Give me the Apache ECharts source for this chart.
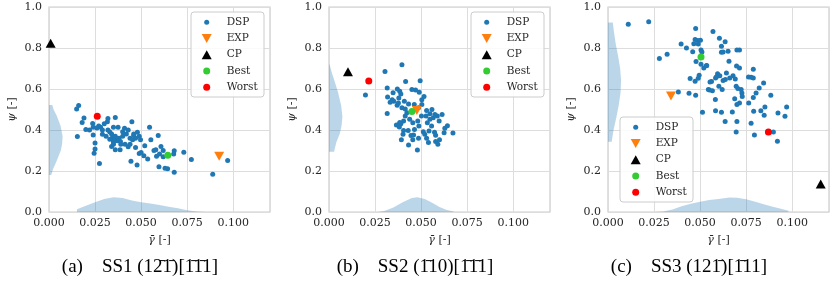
<!DOCTYPE html>
<html><head><meta charset="utf-8">
<script src="https://cdn.jsdelivr.net/npm/echarts@6/dist/echarts.min.js"></script>
<style>html,body{margin:0;padding:0;background:#fff}#c{width:830px;height:281px}</style>
</head><body><div id="c"></div>
<script>
// ---------- data ----------
const seriesNames = ['DSP', 'EXP', 'CP', 'Best', 'Worst'];
const captions = [
  '(a)    SS1 (12\u03041\u0304)[1\u03041\u03041]',
  '(b)    SS2 (1\u030410)[1\u03041\u03041]',
  '(c)    SS3 (121\u0304)[1\u030411]'
];
const dsp1 = [[0.0161,0.520],[0.0150,0.503],[0.0190,0.459],[0.0180,0.437],[0.0200,0.403],[0.0154,0.368],[0.0237,0.432],[0.0240,0.413],[0.0240,0.376],[0.0250,0.336],[0.0250,0.307],[0.0245,0.286],[0.0274,0.237],[0.0320,0.456],[0.0360,0.461],[0.0317,0.440],[0.0280,0.414],[0.0290,0.379],[0.0320,0.400],[0.0350,0.413],[0.0375,0.413],[0.0410,0.408],[0.0400,0.392],[0.0450,0.440],[0.0346,0.368],[0.0364,0.360],[0.0370,0.347],[0.0350,0.341],[0.0388,0.344],[0.0340,0.320],[0.0360,0.304],[0.0386,0.304],[0.0413,0.331],[0.0430,0.318],[0.0440,0.360],[0.0460,0.373],[0.0480,0.389],[0.0454,0.352],[0.0470,0.315],[0.0497,0.352],[0.0546,0.413],[0.0520,0.323],[0.0553,0.352],[0.0593,0.373],[0.0490,0.285],[0.0515,0.275],[0.0536,0.259],[0.0445,0.248],[0.0478,0.229],[0.0580,0.304],[0.0584,0.272],[0.0608,0.320],[0.0620,0.300],[0.0600,0.283],[0.0680,0.299],[0.0677,0.283],[0.0732,0.291],[0.0773,0.256],[0.0597,0.221],[0.0630,0.213],[0.0644,0.211],[0.0680,0.194],[0.0889,0.184],[0.0970,0.251],[0.0270,0.420],[0.0300,0.430],[0.0330,0.390],[0.0310,0.370],[0.0340,0.380],[0.0360,0.370],[0.0380,0.360],[0.0350,0.350],[0.0330,0.355],[0.0390,0.330],[0.0400,0.370],[0.0420,0.380],[0.0430,0.400],[0.0460,0.380],[0.0470,0.360],[0.0440,0.330],[0.0500,0.290],[0.0490,0.370],[0.0350,0.330],[0.0290,0.400],[0.0220,0.400],[0.0260,0.410],[0.0570,0.300],[0.0620,0.270]];
const dsp2 = [[0.0396,0.718],[0.0304,0.685],[0.0198,0.571],[0.0416,0.637],[0.0495,0.640],[0.0316,0.605],[0.0348,0.582],[0.0371,0.600],[0.0384,0.589],[0.0390,0.576],[0.0318,0.561],[0.0450,0.598],[0.0470,0.595],[0.0490,0.584],[0.0516,0.563],[0.0379,0.556],[0.0352,0.540],[0.0370,0.521],[0.0396,0.508],[0.0414,0.503],[0.0316,0.480],[0.0423,0.484],[0.0486,0.508],[0.0504,0.524],[0.0530,0.495],[0.0559,0.500],[0.0502,0.468],[0.0527,0.468],[0.0548,0.452],[0.0566,0.460],[0.0588,0.468],[0.0614,0.476],[0.0598,0.444],[0.0414,0.468],[0.0438,0.452],[0.0405,0.444],[0.0380,0.427],[0.0366,0.424],[0.0390,0.431],[0.0455,0.435],[0.0482,0.444],[0.0488,0.419],[0.0464,0.403],[0.0430,0.398],[0.0512,0.392],[0.0557,0.419],[0.0543,0.395],[0.0643,0.421],[0.0629,0.408],[0.0673,0.385],[0.0573,0.389],[0.0579,0.374],[0.0405,0.398],[0.0459,0.376],[0.0445,0.373],[0.0520,0.379],[0.0530,0.360],[0.0540,0.339],[0.0579,0.344],[0.0600,0.352],[0.0591,0.331],[0.0382,0.415],[0.0384,0.436],[0.0393,0.352],[0.0432,0.327],[0.0480,0.302],[0.0455,0.352],[0.0486,0.360],[0.0402,0.379],[0.0377,0.532],[0.0343,0.548],[0.0332,0.535],[0.0409,0.540],[0.0432,0.527],[0.0463,0.524],[0.0504,0.548],[0.0625,0.387],[0.0534,0.435],[0.0575,0.476],[0.0548,0.479]];
const dsp3 = [[0.0110,0.916],[0.0221,0.928],[0.0476,0.895],[0.0473,0.841],[0.0487,0.836],[0.0502,0.838],[0.0466,0.821],[0.0490,0.820],[0.0397,0.820],[0.0426,0.800],[0.0460,0.782],[0.0505,0.790],[0.0510,0.780],[0.0321,0.770],[0.0279,0.749],[0.0478,0.734],[0.0505,0.721],[0.0536,0.715],[0.0520,0.702],[0.0495,0.667],[0.0490,0.652],[0.0446,0.651],[0.0473,0.638],[0.0551,0.595],[0.0440,0.579],[0.0476,0.570],[0.0382,0.585],[0.0513,0.487],[0.0570,0.881],[0.0605,0.847],[0.0636,0.831],[0.0616,0.808],[0.0616,0.779],[0.0625,0.780],[0.0652,0.784],[0.0700,0.790],[0.0714,0.790],[0.0657,0.735],[0.0534,0.714],[0.0698,0.712],[0.0714,0.702],[0.0789,0.696],[0.0595,0.675],[0.0607,0.665],[0.0643,0.678],[0.0679,0.665],[0.0562,0.637],[0.0584,0.654],[0.0625,0.641],[0.0637,0.646],[0.0661,0.654],[0.0691,0.649],[0.0545,0.598],[0.0602,0.613],[0.0620,0.597],[0.0696,0.613],[0.0705,0.602],[0.0723,0.597],[0.0727,0.580],[0.0729,0.564],[0.0714,0.532],[0.0700,0.524],[0.0688,0.553],[0.0764,0.532],[0.0789,0.559],[0.0804,0.580],[0.0821,0.605],[0.0845,0.629],[0.0789,0.654],[0.0777,0.657],[0.0763,0.659],[0.0884,0.569],[0.0970,0.512],[0.0961,0.467],[0.0852,0.512],[0.0830,0.494],[0.0923,0.483],[0.0848,0.472],[0.0791,0.491],[0.0584,0.494],[0.0616,0.486],[0.0675,0.488],[0.0636,0.441],[0.0700,0.441],[0.0777,0.433],[0.0696,0.390],[0.0795,0.376],[0.0898,0.390],[0.0920,0.345],[0.0554,0.634],[0.0589,0.660],[0.0567,0.592],[0.0583,0.549]];
const exp1 = [[0.0924,0.272]], exp2 = [[0.0477,0.495]], exp3 = [[0.0342,0.566]];
const cp1 = [[0.0009,0.823]], cp2 = [[0.0103,0.684]], cp3 = [[0.1155,0.137]];
const best1 = [[0.0645,0.277]], best2 = [[0.0450,0.490]], best3 = [[0.0505,0.756]];
const worst1 = [[0.0262,0.467]], worst2 = [[0.0216,0.639]], worst3 = [[0.0871,0.390]];
// marginal densities: bottom [gamma, height], left [psi, width]
const kdeX1 = [[0.0152,0.013],[0.020,0.030],[0.025,0.048],[0.030,0.063],[0.035,0.072],[0.040,0.068],[0.045,0.056],[0.050,0.047],[0.055,0.041],[0.060,0.034],[0.065,0.026],[0.070,0.018],[0.075,0.008],[0.080,0.002],[0.085,0.0005],[0.097,0]];
const kdeY1 = [[0.522,0.0018],[0.50,0.0025],[0.47,0.0042],[0.42,0.0063],[0.37,0.0074],[0.33,0.0071],[0.30,0.0064],[0.25,0.0042],[0.21,0.0022],[0.18,0.0012]];
const kdeX2 = [[0.0265,0.0],[0.030,0.005],[0.035,0.022],[0.040,0.048],[0.045,0.068],[0.048,0.072],[0.052,0.063],[0.056,0.045],[0.060,0.025],[0.064,0.010],[0.0676,0.002]];
const kdeY2 = [[0.72,0.0003],[0.68,0.0015],[0.63,0.0033],[0.58,0.005],[0.52,0.0066],[0.465,0.0073],[0.42,0.0068],[0.38,0.0058],[0.34,0.004],[0.30,0.0029],[0.294,0.0028]];
const kdeX3 = [[0.0255,0.0],[0.030,0.003],[0.035,0.012],[0.040,0.028],[0.045,0.040],[0.050,0.050],[0.055,0.058],[0.060,0.064],[0.066,0.071],[0.070,0.069],[0.075,0.062],[0.080,0.050],[0.085,0.037],[0.090,0.025],[0.095,0.013],[0.098,0.006]];
const kdeY3 = [[0.924,0.0026],[0.88,0.0032],[0.82,0.0042],[0.76,0.0055],[0.70,0.0066],[0.64,0.0071],[0.58,0.0068],[0.52,0.0058],[0.46,0.0045],[0.40,0.003],[0.343,0.002]];

// ---------- layout / style ----------
const panels = [
  {dsp: dsp1, exp: exp1, cp: cp1, best: best1, worst: worst1, kx: kdeX1, ky: kdeY1},
  {dsp: dsp2, exp: exp2, cp: cp2, best: best2, worst: worst2, kx: kdeX2, ky: kdeY2},
  {dsp: dsp3, exp: exp3, cp: cp3, best: best3, worst: worst3, kx: kdeX3, ky: kdeY3}
];
const gridLefts = [49, 329, 608];
const captionCenters = [140, 415, 689];
const legendBoxes = [{x:191, y:12}, {x:471, y:12}, {x:620, y:117}];
const FONT = '"DejaVu Serif", serif';
const TXT = '#262626';
const KDE_FILL = 'rgba(31,119,180,0.30)';
const downTri = 'path://M0,0 L10,0 L5,9 Z';
const upTri = 'path://M5,0 L10,9 L0,9 Z';
const styles = {
  DSP:   {symbol:'circle', size:5, color:'#1f77b4', lw:5, lh:5},
  EXP:   {symbol:downTri, size:[10,9], color:'#ff7f0e', lw:10, lh:9},
  CP:    {symbol:upTri, size:[10,9], color:'#000000', lw:10, lh:9},
  Best:  {symbol:'circle', size:7, color:'#33cc33', lw:7, lh:7},
  Worst: {symbol:'circle', size:7, color:'#ff0000', lw:7, lh:7}
};

const grid = [], xAxis = [], yAxis = [], series = [], legend = [], graphic = [];
panels.forEach((p, i) => {
  grid.push({left: gridLefts[i], top: 7, width: 221, height: 205, show: true,
    backgroundColor: '#ffffff', borderColor: '#cccccc', borderWidth: 1.2});
  xAxis.push({gridIndex: i, type: 'value', min: 0, max: 0.12, interval: 0.025,
    name: '{i|\u03b3\u0304} [-]', nameLocation: 'middle', nameGap: 23,
    nameTextStyle: {fontFamily: FONT, fontSize: 11, color: TXT,
      rich: {i: {fontFamily: FONT, fontStyle: 'italic', fontSize: 11, color: TXT}}},
    axisLine: {show: false}, axisTick: {show: false},
    axisLabel: {fontFamily: FONT, fontSize: 11, color: TXT, margin: 6, showMaxLabel: false,
      formatter: v => (Math.abs(v / 0.025 - Math.round(v / 0.025)) < 1e-6) ? v.toFixed(3) : ''},
    splitLine: {show: true, lineStyle: {color: '#dddddd', width: 1}}});
  yAxis.push({gridIndex: i, type: 'value', min: 0, max: 1, interval: 0.2,
    name: '{i|\u03c8} [-]', nameLocation: 'middle', nameGap: 31,
    nameTextStyle: {fontFamily: FONT, fontSize: 11, color: TXT,
      rich: {i: {fontFamily: FONT, fontStyle: 'italic', fontSize: 11, color: TXT}}},
    axisLine: {show: false}, axisTick: {show: false},
    axisLabel: {fontFamily: FONT, fontSize: 11, color: TXT, margin: 7, formatter: v => v.toFixed(1)},
    splitLine: {show: true, lineStyle: {color: '#dddddd', width: 1}}});

  const kx = p.kx, ky = p.ky;
  series.push({type: 'custom', name: 'kdeX' + i, xAxisIndex: i, yAxisIndex: i, z: 1, silent: true,
    data: kx, encode: {x: 0, y: 1},
    renderItem: (params, api) => {
      if (params.dataIndex !== 0) return null;
      const pts = [api.coord([kx[0][0], 0])];
      kx.forEach(d => pts.push(api.coord(d)));
      pts.push(api.coord([kx[kx.length - 1][0], 0]));
      return {type: 'polygon', shape: {points: pts}, style: {fill: KDE_FILL}};
    }});
  series.push({type: 'custom', name: 'kdeY' + i, xAxisIndex: i, yAxisIndex: i, z: 1, silent: true,
    data: ky, encode: {x: 1, y: 0},
    renderItem: (params, api) => {
      if (params.dataIndex !== 0) return null;
      const pts = [api.coord([0, ky[0][0]])];
      ky.forEach(d => pts.push(api.coord([d[1], d[0]])));
      pts.push(api.coord([0, ky[ky.length - 1][0]]));
      return {type: 'polygon', shape: {points: pts}, style: {fill: KDE_FILL}};
    }});
  const dataMap = {DSP: p.dsp, EXP: p.exp, CP: p.cp, Best: p.best, Worst: p.worst};
  seriesNames.forEach((n, k) => {
    const s = styles[n];
    series.push({type: 'scatter', name: n, xAxisIndex: i, yAxisIndex: i, z: 3 + k,
      symbol: s.symbol, symbolSize: s.size, data: dataMap[n],
      itemStyle: {color: s.color, opacity: 1}, silent: true});
  });

  const b = legendBoxes[i];
  graphic.push({type: 'rect', z: 50, shape: {x: b.x, y: b.y, width: 73, height: 85, r: 3},
    style: {fill: 'rgba(255,255,255,0.85)', stroke: '#cccccc', lineWidth: 1}});
  seriesNames.forEach((n, k) => {
    const rc = b.y + 9.7 + 16.25 * k;
    const s = styles[n];
    legend.push({show: true, selectedMode: false, orient: 'vertical', z: 60, padding: 0,
      left: b.x + 0.7 + (30 - s.lw) / 2, top: rc - 5, itemWidth: 30, itemHeight: s.lh,
      data: [n], textStyle: {fontFamily: FONT, fontSize: 10.5, color: TXT}});
  });
  graphic.push({type: 'text', z: 50, x: captionCenters[i], y: 267,
    style: {text: captions[i], font: '19px "Liberation Serif"', fill: '#000000',
      textAlign: 'center', textVerticalAlign: 'middle'}});
});

const chart = echarts.init(document.getElementById('c'), null, {renderer: 'canvas'});
chart.setOption({animation: false, backgroundColor: '#ffffff', grid, xAxis, yAxis, series, legend, graphic});
</script></body></html>
